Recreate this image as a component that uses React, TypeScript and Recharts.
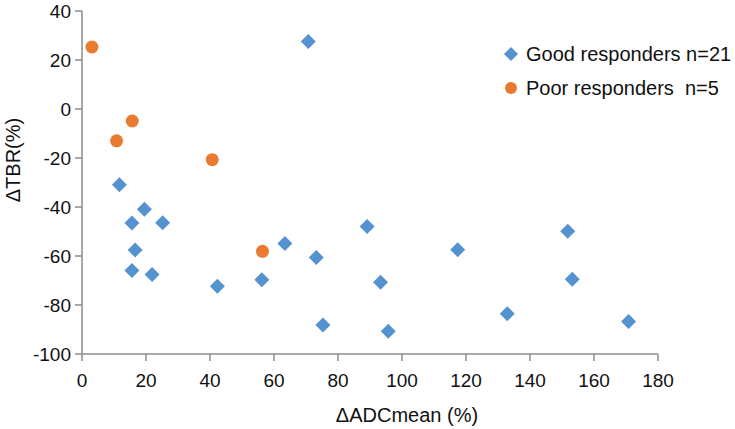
import { ScatterChart, Scatter, XAxis, YAxis, Label, Legend } from 'recharts';

// ΔADCmean (%) vs ΔTBR (%) per patient
const goodX = [11.7, 15.6, 19.5, 25.2, 16.6, 15.6, 21.9, 42.3, 63.4, 73.2, 56.2, 89.1, 93.3, 117.4, 75.3, 95.7, 70.7, 151.8, 153.2, 132.9, 170.8];
const goodY = [-30.9, -46.5, -40.9, -46.4, -57.5, -65.9, -67.6, -72.3, -54.9, -60.6, -69.7, -48.0, -70.7, -57.4, -88.2, -90.7, 27.6, -49.9, -69.5, -83.6, -86.7];
const poorX = [3.1, 10.8, 15.7, 40.7, 56.4];
const poorY = [25.3, -13.0, -4.9, -20.7, -58.1];

const xTicks = [0, 20, 40, 60, 80, 100, 120, 140, 160, 180];
const yTicks = [-100, -80, -60, -40, -20, 0, 20, 40];

const goodName = 'Good responders n=21';
const poorName = 'Poor responders  n=5';

const BLUE = '#5592d0';
const ORANGE = '#e97a30';
const AXIS = '#8c8c8c';
const FONT = '"Liberation Sans", Arial, sans-serif';

const good = goodX.map((x, i) => ({ x, y: goodY[i] }));
const poor = poorX.map((x, i) => ({ x, y: poorY[i] }));

const Diamond = (props: any) => {
  const { cx, cy } = props;
  const r = 7.5;
  return <polygon points={`${cx},${cy - r} ${cx + r},${cy} ${cx},${cy + r} ${cx - r},${cy}`} fill={BLUE} />;
};

const Dot = (props: any) => <circle cx={props.cx} cy={props.cy} r={6.5} fill={ORANGE} />;

const LegendBox = () => (
  <div style={{ fontFamily: FONT, fontSize: 20, color: '#111', lineHeight: '34px' }}>
    <div style={{ display: 'flex', alignItems: 'center', whiteSpace: 'pre' }}>
      <svg width={21} height={16} style={{ marginRight: 1 }}>
        <polygon points="7,1 14,8 7,15 0,8" fill={BLUE} />
      </svg>
      {goodName}
    </div>
    <div style={{ display: 'flex', alignItems: 'center', whiteSpace: 'pre' }}>
      <svg width={21} height={16} style={{ marginRight: 1 }}>
        <circle cx={7} cy={8} r={6} fill={ORANGE} />
      </svg>
      {poorName}
    </div>
  </div>
);

export default function App() {
  const tick = { fill: '#111', fontSize: 19, fontFamily: FONT };
  return (
    <div style={{ position: 'absolute', left: 0, top: 0, background: '#fff' }}>
      <ScatterChart width={735} height={429} margin={{ top: 11, right: 77, left: 0, bottom: 0 }}>
        <XAxis
          type="number"
          dataKey="x"
          domain={[0, 180]}
          ticks={xTicks}
          interval={0}
          height={75}
          stroke={AXIS}
          strokeWidth={1.5}
          tickSize={7}
          tickMargin={13}
          tick={tick}
        >
          <Label
            content={({ viewBox }: any) => (
              <text x={viewBox.x + viewBox.width / 2 + 37} y={422} textAnchor="middle" fontSize={20} fontFamily={FONT} fill="#111">
                ΔADCmean (%)
              </text>
            )}
          />
        </XAxis>
        <YAxis
          type="number"
          dataKey="y"
          domain={[-100, 40]}
          ticks={yTicks}
          interval={0}
          width={82}
          stroke={AXIS}
          strokeWidth={1.5}
          tickSize={7}
          tickMargin={4}
          tick={tick}
        >
          <Label
            content={() => (
              <text x={0} y={0} transform="translate(19.5,160) rotate(-90)" textAnchor="middle" fontSize={20} fontFamily={FONT} fill="#111">
                ΔTBR(%)
              </text>
            )}
          />
        </YAxis>
        <Legend
          layout="vertical"
          align="center"
          verticalAlign="middle"
          content={<LegendBox />}
          wrapperStyle={{ position: 'absolute', left: 504, top: 37, width: 230 }}
        />
        <Scatter name={goodName} data={good} shape={<Diamond />} isAnimationActive={false} />
        <Scatter name={poorName} data={poor} shape={<Dot />} isAnimationActive={false} />
      </ScatterChart>
    </div>
  );
}
